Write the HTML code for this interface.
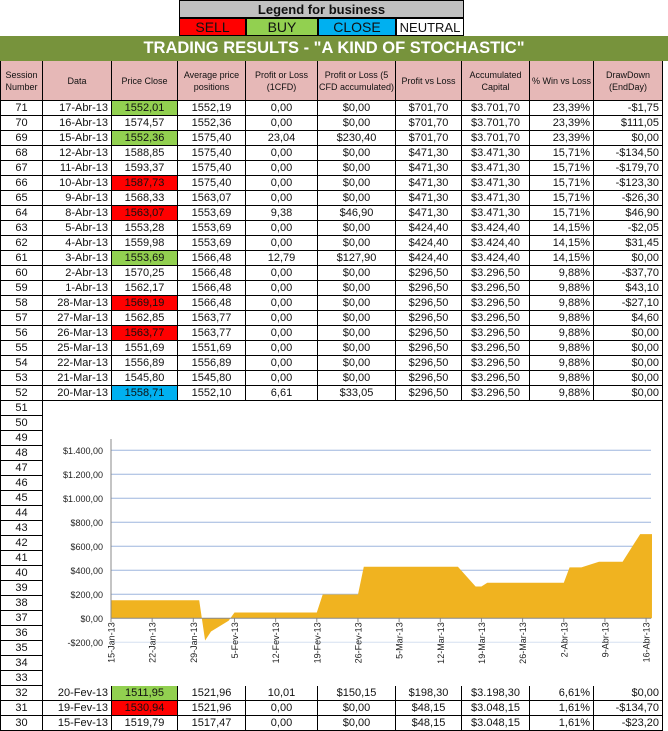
<!DOCTYPE html>
<html><head><meta charset="utf-8">
<style>
body{margin:0;width:668px;height:731px;position:relative;background:#fff;font-family:"Liberation Sans",Arial,sans-serif;overflow:hidden;color:#111}
.a{position:absolute;box-sizing:border-box}
.c{position:absolute;box-sizing:border-box;border-right:1px solid #000;border-bottom:1px solid #000;font-size:11px;line-height:14px;white-space:nowrap;overflow:hidden}
.h{position:absolute;box-sizing:border-box;border-right:1px solid #000;border-bottom:1px solid #000;background:#e6b8b7;font-size:9px;line-height:12px;display:flex;align-items:center;justify-content:center;text-align:center}
</style></head><body>
<div class="a" style="left:179px;top:0;width:285px;height:18px;background:#c0c0c0;border:1px solid #000;font-weight:bold;font-size:13px;text-align:center;line-height:17px">Legend for business</div>
<div class="a" style="left:179px;top:18px;width:67px;height:18px;background:#ff0000;border:1px solid #000;font-size:14px;text-align:center;line-height:17px">SELL</div>
<div class="a" style="left:246px;top:18px;width:72px;height:18px;background:#92d050;border:1px solid #000;font-size:14px;text-align:center;line-height:17px">BUY</div>
<div class="a" style="left:318px;top:18px;width:78px;height:18px;background:#00b0f0;border:1px solid #000;font-size:14px;text-align:center;line-height:17px">CLOSE</div>
<div class="a" style="left:396px;top:18px;width:68px;height:18px;background:#fff;border:1px solid #000;font-size:13px;text-align:center;line-height:17px">NEUTRAL</div>
<div class="a" style="left:0;top:36px;width:668px;height:25px;background:#77933c;color:#fff;font-weight:bold;font-size:16.5px;text-align:center;line-height:25px">TRADING RESULTS - "A KIND OF STOCHASTIC"</div>
<div id="tbl"></div>
<svg id="chart" class="a" style="left:0;top:0" width="668" height="731"></svg>
<script>
const cols=[0,43,112,178,246,318,396,462,530,594,663];
const headers=["Session Number","Data","Price Close","Average price positions","Profit or Loss (1CFD)","Profit or Loss (5 CFD accumulated)","Profit vs Loss","Accumulated Capital","% Win vs Loss","DrawDown (EndDay)"];
const topRows=[
["71","17-Abr-13","1552,01G","1552,19","0,00","$0,00","$701,70","$3.701,70","23,39%","-$1,75"],
["70","16-Abr-13","1574,57","1552,36","0,00","$0,00","$701,70","$3.701,70","23,39%","$111,05"],
["69","15-Abr-13","1552,36G","1575,40","23,04","$230,40","$701,70","$3.701,70","23,39%","$0,00"],
["68","12-Abr-13","1588,85","1575,40","0,00","$0,00","$471,30","$3.471,30","15,71%","-$134,50"],
["67","11-Abr-13","1593,37","1575,40","0,00","$0,00","$471,30","$3.471,30","15,71%","-$179,70"],
["66","10-Abr-13","1587,73R","1575,40","0,00","$0,00","$471,30","$3.471,30","15,71%","-$123,30"],
["65","9-Abr-13","1568,33","1563,07","0,00","$0,00","$471,30","$3.471,30","15,71%","-$26,30"],
["64","8-Abr-13","1563,07R","1553,69","9,38","$46,90","$471,30","$3.471,30","15,71%","$46,90"],
["63","5-Abr-13","1553,28","1553,69","0,00","$0,00","$424,40","$3.424,40","14,15%","-$2,05"],
["62","4-Abr-13","1559,98","1553,69","0,00","$0,00","$424,40","$3.424,40","14,15%","$31,45"],
["61","3-Abr-13","1553,69G","1566,48","12,79","$127,90","$424,40","$3.424,40","14,15%","$0,00"],
["60","2-Abr-13","1570,25","1566,48","0,00","$0,00","$296,50","$3.296,50","9,88%","-$37,70"],
["59","1-Abr-13","1562,17","1566,48","0,00","$0,00","$296,50","$3.296,50","9,88%","$43,10"],
["58","28-Mar-13","1569,19R","1566,48","0,00","$0,00","$296,50","$3.296,50","9,88%","-$27,10"],
["57","27-Mar-13","1562,85","1563,77","0,00","$0,00","$296,50","$3.296,50","9,88%","$4,60"],
["56","26-Mar-13","1563,77R","1563,77","0,00","$0,00","$296,50","$3.296,50","9,88%","$0,00"],
["55","25-Mar-13","1551,69","1551,69","0,00","$0,00","$296,50","$3.296,50","9,88%","$0,00"],
["54","22-Mar-13","1556,89","1556,89","0,00","$0,00","$296,50","$3.296,50","9,88%","$0,00"],
["53","21-Mar-13","1545,80","1545,80","0,00","$0,00","$296,50","$3.296,50","9,88%","$0,00"],
["52","20-Mar-13","1558,71B","1552,10","6,61","$33,05","$296,50","$3.296,50","9,88%","$0,00"]];
const bottomRows=[
["32","20-Fev-13","1511,95G","1521,96","10,01","$150,15","$198,30","$3.198,30","6,61%","$0,00"],
["31","19-Fev-13","1530,94R","1521,96","0,00","$0,00","$48,15","$3.048,15","1,61%","-$134,70"],
["30","15-Fev-13","1519,79","1517,47","0,00","$0,00","$48,15","$3.048,15","1,61%","-$23,20"]];
const colNames=["session-number","date","price-close","average-price","profit-loss-1cfd","profit-loss-5cfd","profit-vs-loss","accumulated-capital","win-vs-loss","drawdown"];
const aligns=["center","right","center","center","center","center","center","center","right","right"];
const colorMap={G:"#92d050",R:"#ff0000",B:"#00b0f0"};
const tbl=document.getElementById('tbl');
function mk(cls,l,t,w,h){const d=document.createElement('div');d.className=cls;d.style.left=l+'px';d.style.top=t+'px';d.style.width=w+'px';d.style.height=h+'px';tbl.appendChild(d);return d;}
for(let c=0;c<10;c++){
  const d=mk('h',cols[c],61,cols[c+1]-cols[c],40);
  
  
  if(c==0)d.style.borderLeft='1px solid #000';
  d.textContent=headers[c];
}
function drawRow(r,y){
  for(let c=0;c<10;c++){
    let t=r[c];const d=mk('c',cols[c],y,cols[c+1]-cols[c],15);
    
    
    const last=t.slice(-1);
    if(colorMap[last]){d.style.background=colorMap[last];t=t.slice(0,-1);}
    d.textContent=t;d.style.textAlign=aligns[c];
    d.style.padding=aligns[c]=='right'?'0 3px 0 0':'0';
    if(c==0)d.style.borderLeft='1px solid #000';
  }
}
topRows.forEach((r,i)=>drawRow(r,101+i*15));
for(let i=0;i<19;i++){
  const d=mk('c',0,401+i*15,43,15);
  
  
  d.style.borderLeft='1px solid #000';d.style.textAlign='center';d.textContent=String(51-i);
}
const rl=mk('a',662,401,1,285);rl.style.background='#000';


bottomRows.forEach((r,i)=>drawRow(r,686+i*15));
</script>
<script>
const dates=["2013-01-15","2013-01-16","2013-01-17","2013-01-18","2013-01-21","2013-01-22","2013-01-23","2013-01-24","2013-01-25","2013-01-28","2013-01-29","2013-01-30","2013-01-31","2013-02-01","2013-02-04","2013-02-05","2013-02-06","2013-02-07","2013-02-08","2013-02-11","2013-02-12","2013-02-13","2013-02-14","2013-02-15","2013-02-18","2013-02-19","2013-02-20","2013-02-21","2013-02-22","2013-02-25","2013-02-26","2013-02-27","2013-02-28","2013-03-01","2013-03-04","2013-03-05","2013-03-06","2013-03-07","2013-03-08","2013-03-11","2013-03-12","2013-03-13","2013-03-14","2013-03-15","2013-03-18","2013-03-19","2013-03-20","2013-03-21","2013-03-22","2013-03-25","2013-03-26","2013-03-27","2013-03-28","2013-04-01","2013-04-02","2013-04-03","2013-04-04","2013-04-05","2013-04-08","2013-04-09","2013-04-10","2013-04-11","2013-04-12","2013-04-15","2013-04-16","2013-04-17"];
const profit=[150,150,150,150,150,150,150,150,150,150,150,150,-185,-110,-20,48.15,48.15,48.15,48.15,48.15,48.15,48.15,48.15,48.15,48.15,48.15,198.3,198.3,198.3,198.3,198.3,430,430,430,430,430,430,430,430,430,430,430,430,430,265,265,296.5,296.5,296.5,296.5,296.5,296.5,296.5,296.5,296.5,424.4,424.4,424.4,471.3,471.3,471.3,471.3,471.3,701.7,701.7,701.7];
const yTicks=[-200,0,200,400,600,800,1000,1200,1400];
const yTickLabels=["-$200,00","$0,00","$200,00","$400,00","$600,00","$800,00","$1.000,00","$1.200,00","$1.400,00"];
const xTickDates=["2013-01-15","2013-01-22","2013-01-29","2013-02-05","2013-02-12","2013-02-19","2013-02-26","2013-03-05","2013-03-12","2013-03-19","2013-03-26","2013-04-02","2013-04-09","2013-04-16"];
const xTickLabels=["15-Jan-13","22-Jan-13","29-Jan-13","5-Fev-13","12-Fev-13","19-Fev-13","26-Fev-13","5-Mar-13","12-Mar-13","19-Mar-13","26-Mar-13","2-Abr-13","9-Abr-13","16-Abr-13"];
const svg=document.getElementById('chart');const NS='http://www.w3.org/2000/svg';
const d0=Date.UTC(2013,0,15);
function dayOf(s){const p=s.split('-');return (Date.UTC(+p[0],+p[1]-1,+p[2])-d0)/86400000;}
function X(s){return 111+dayOf(s)*5.88;}
function Y(v){return 618.3-v*0.12;}
function el(t,a){const e=document.createElementNS(NS,t);for(const k in a)e.setAttribute(k,a[k]);svg.appendChild(e);return e;}
yTicks.forEach((v,i)=>{
  if(v!==0){const g=el('line',{x1:111,x2:651,y1:Y(v),y2:Y(v),stroke:v<0?'#d6e0f0':'#9db5de','stroke-width':1});
  
  }
  const t=el('text',{x:103,y:Y(v)+3.5,'text-anchor':'end','font-size':'9','font-family':'Liberation Sans, sans-serif',fill:'#222'});
  
  
  t.textContent=yTickLabels[i];
});
let d='M'+X(dates[0])+','+Y(0);
dates.forEach((s,i)=>{d+=' L'+X(s).toFixed(1)+','+Y(profit[i]).toFixed(1);});
d+=' L'+X(dates[dates.length-1])+','+Y(0)+' Z';
const area=el('path',{d:d,fill:'#f0b320'});


const ax=el('line',{x1:111,x2:111,y1:439,y2:Y(0),stroke:'#888'});


const zx=el('line',{x1:111,x2:651,y1:Y(0),y2:Y(0),stroke:'#888'});


xTickDates.forEach((s,i)=>{
  const x=X(s);
  const tk=el('line',{x1:x,x2:x,y1:Y(0),y2:Y(0)+4,stroke:'#888'});
  
  
  const t=el('text',{x:0,y:0,'text-anchor':'end','font-size':'9','font-family':'Liberation Sans, sans-serif',fill:'#222',transform:'translate('+(x+3.5)+','+(Y(0)+4)+') rotate(-90)'});
  
  
  t.textContent=xTickLabels[i];
});
</script>
</body></html>
